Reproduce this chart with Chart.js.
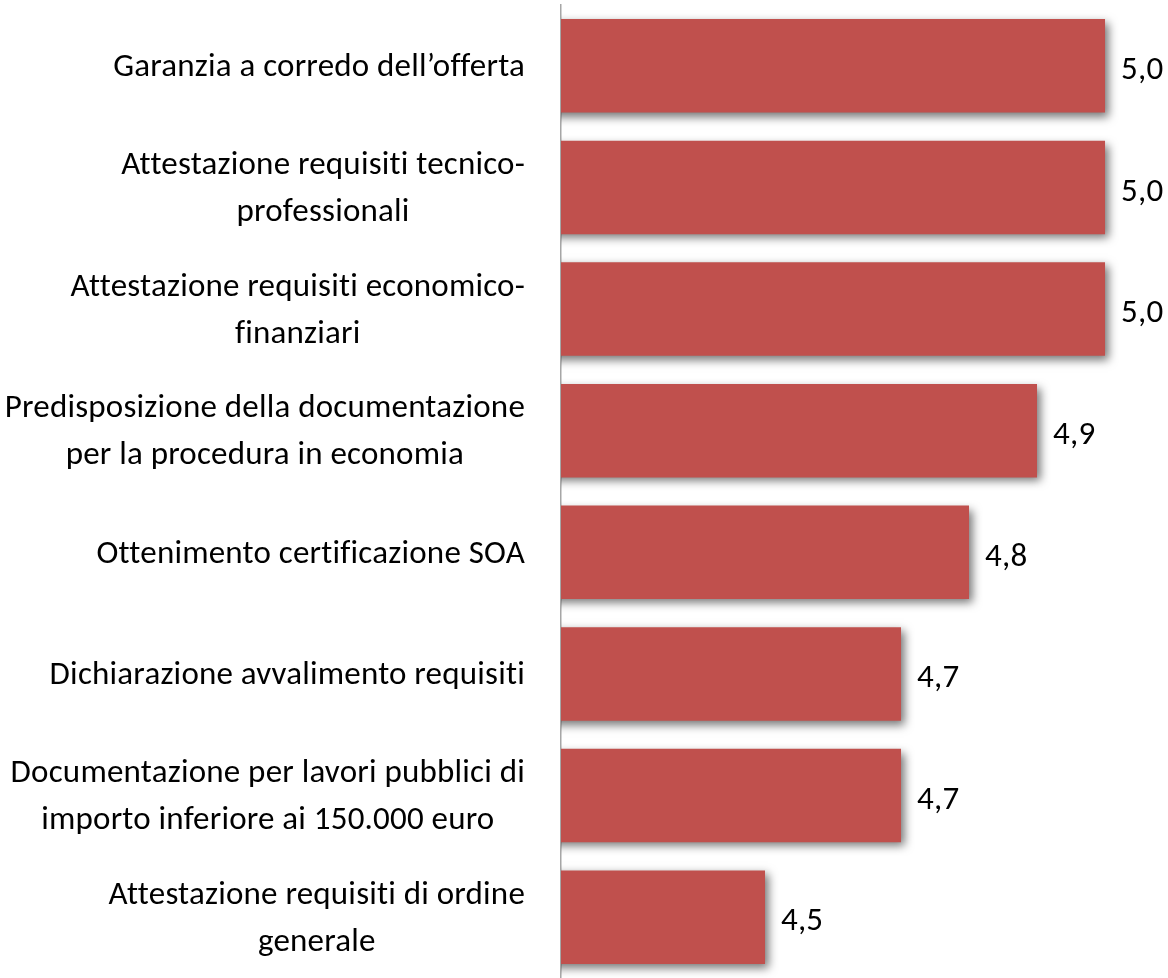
<!DOCTYPE html>
<html>
<head>
<meta charset="utf-8">
<script src="https://cdn.jsdelivr.net/npm/chart.js@4"></script>
<style>
html,body{margin:0;padding:0;background:#fff;overflow:hidden;}
#wrap{width:1168px;height:978px;position:relative;}
</style>
</head>
<body>
<div id="wrap"><canvas id="c"></canvas></div>
<script>
const categories = [
  ["Garanzia a corredo dell\u2019offerta"],
  ["Attestazione requisiti tecnico-", "professionali"],
  ["Attestazione requisiti economico-", "finanziari"],
  ["Predisposizione della documentazione", "per la procedura in economia"],
  ["Ottenimento certificazione SOA"],
  ["Dichiarazione avvalimento requisiti"],
  ["Documentazione per lavori pubblici di", "importo inferiore ai 150.000 euro"],
  ["Attestazione requisiti di ordine", "generale"]
];
const values = [5.0, 5.0, 5.0, 4.9, 4.8, 4.7, 4.7, 4.5];

const FONT = "'Carlito', 'Liberation Sans Narrow', 'Arial Narrow', sans-serif";
const FSIZE = 33;

const shadowPlugin = {
  id: 'shadow',
  beforeDatasetsDraw(chart) {
    const ctx = chart.ctx;
    ctx.save();
    ctx.shadowColor = 'rgba(0,0,0,0.55)';
    ctx.shadowBlur = 9;
    ctx.shadowOffsetX = 4;
    ctx.shadowOffsetY = 4;
  },
  afterDatasetsDraw(chart) {
    chart.ctx.restore();
  }
};

const labelsPlugin = {
  id: 'labels',
  afterDraw(chart) {
    const ctx = chart.ctx;
    const y = chart.scales.y;
    ctx.save();
    ctx.font = FSIZE + 'px ' + FONT;
    if ('letterSpacing' in ctx) ctx.letterSpacing = '0.2px';
    ctx.fillStyle = '#000';
    ctx.textBaseline = 'middle';
    const rightEdge = chart.chartArea.left - 36;
    const lineH = 47;
    categories.forEach((lines, i) => {
      const cy = y.getPixelForValue(i);
      let maxW = 0;
      lines.forEach(l => { maxW = Math.max(maxW, ctx.measureText(l).width); });
      const cx = rightEdge - maxW / 2;
      ctx.textAlign = 'center';
      const n = lines.length;
      lines.forEach((l, k) => {
        const ly = cy + (k - (n - 1) / 2) * lineH + 2;
        ctx.fillText(l, cx, ly);
      });
    });
    // value labels
    ctx.textAlign = 'left';
    const meta = chart.getDatasetMeta(0);
    meta.data.forEach((bar, i) => {
      const txt = values[i].toFixed(1).replace('.', ',');
      ctx.fillText(txt, bar.x + 16, bar.y + 5);
    });
    ctx.restore();
  }
};

new Chart(document.getElementById('c'), {
  type: 'bar',
  data: {
    labels: categories,
    datasets: [{
      data: values,
      backgroundColor: '#C0504D',
      borderWidth: 0,
      barPercentage: 0.768,
      categoryPercentage: 1.0
    }]
  },
  options: {
    indexAxis: 'y',
    responsive: true,
    maintainAspectRatio: false,
    animation: false,
    layout: { padding: { top: 5, bottom: 0, left: 0, right: 0 } },
    plugins: { legend: { display: false }, tooltip: { enabled: false } },
    scales: {
      x: {
        display: false,
        min: 4.2,
        max: 5.0926
      },
      y: {
        grid: { display: false, drawTicks: false },
        ticks: { display: false },
        border: { display: true, color: '#A6A6A6', width: 1.5 },
        afterFit(s) { s.width = 561; }
      }
    }
  },
  plugins: [shadowPlugin, labelsPlugin]
});
</script>
</body>
</html>
